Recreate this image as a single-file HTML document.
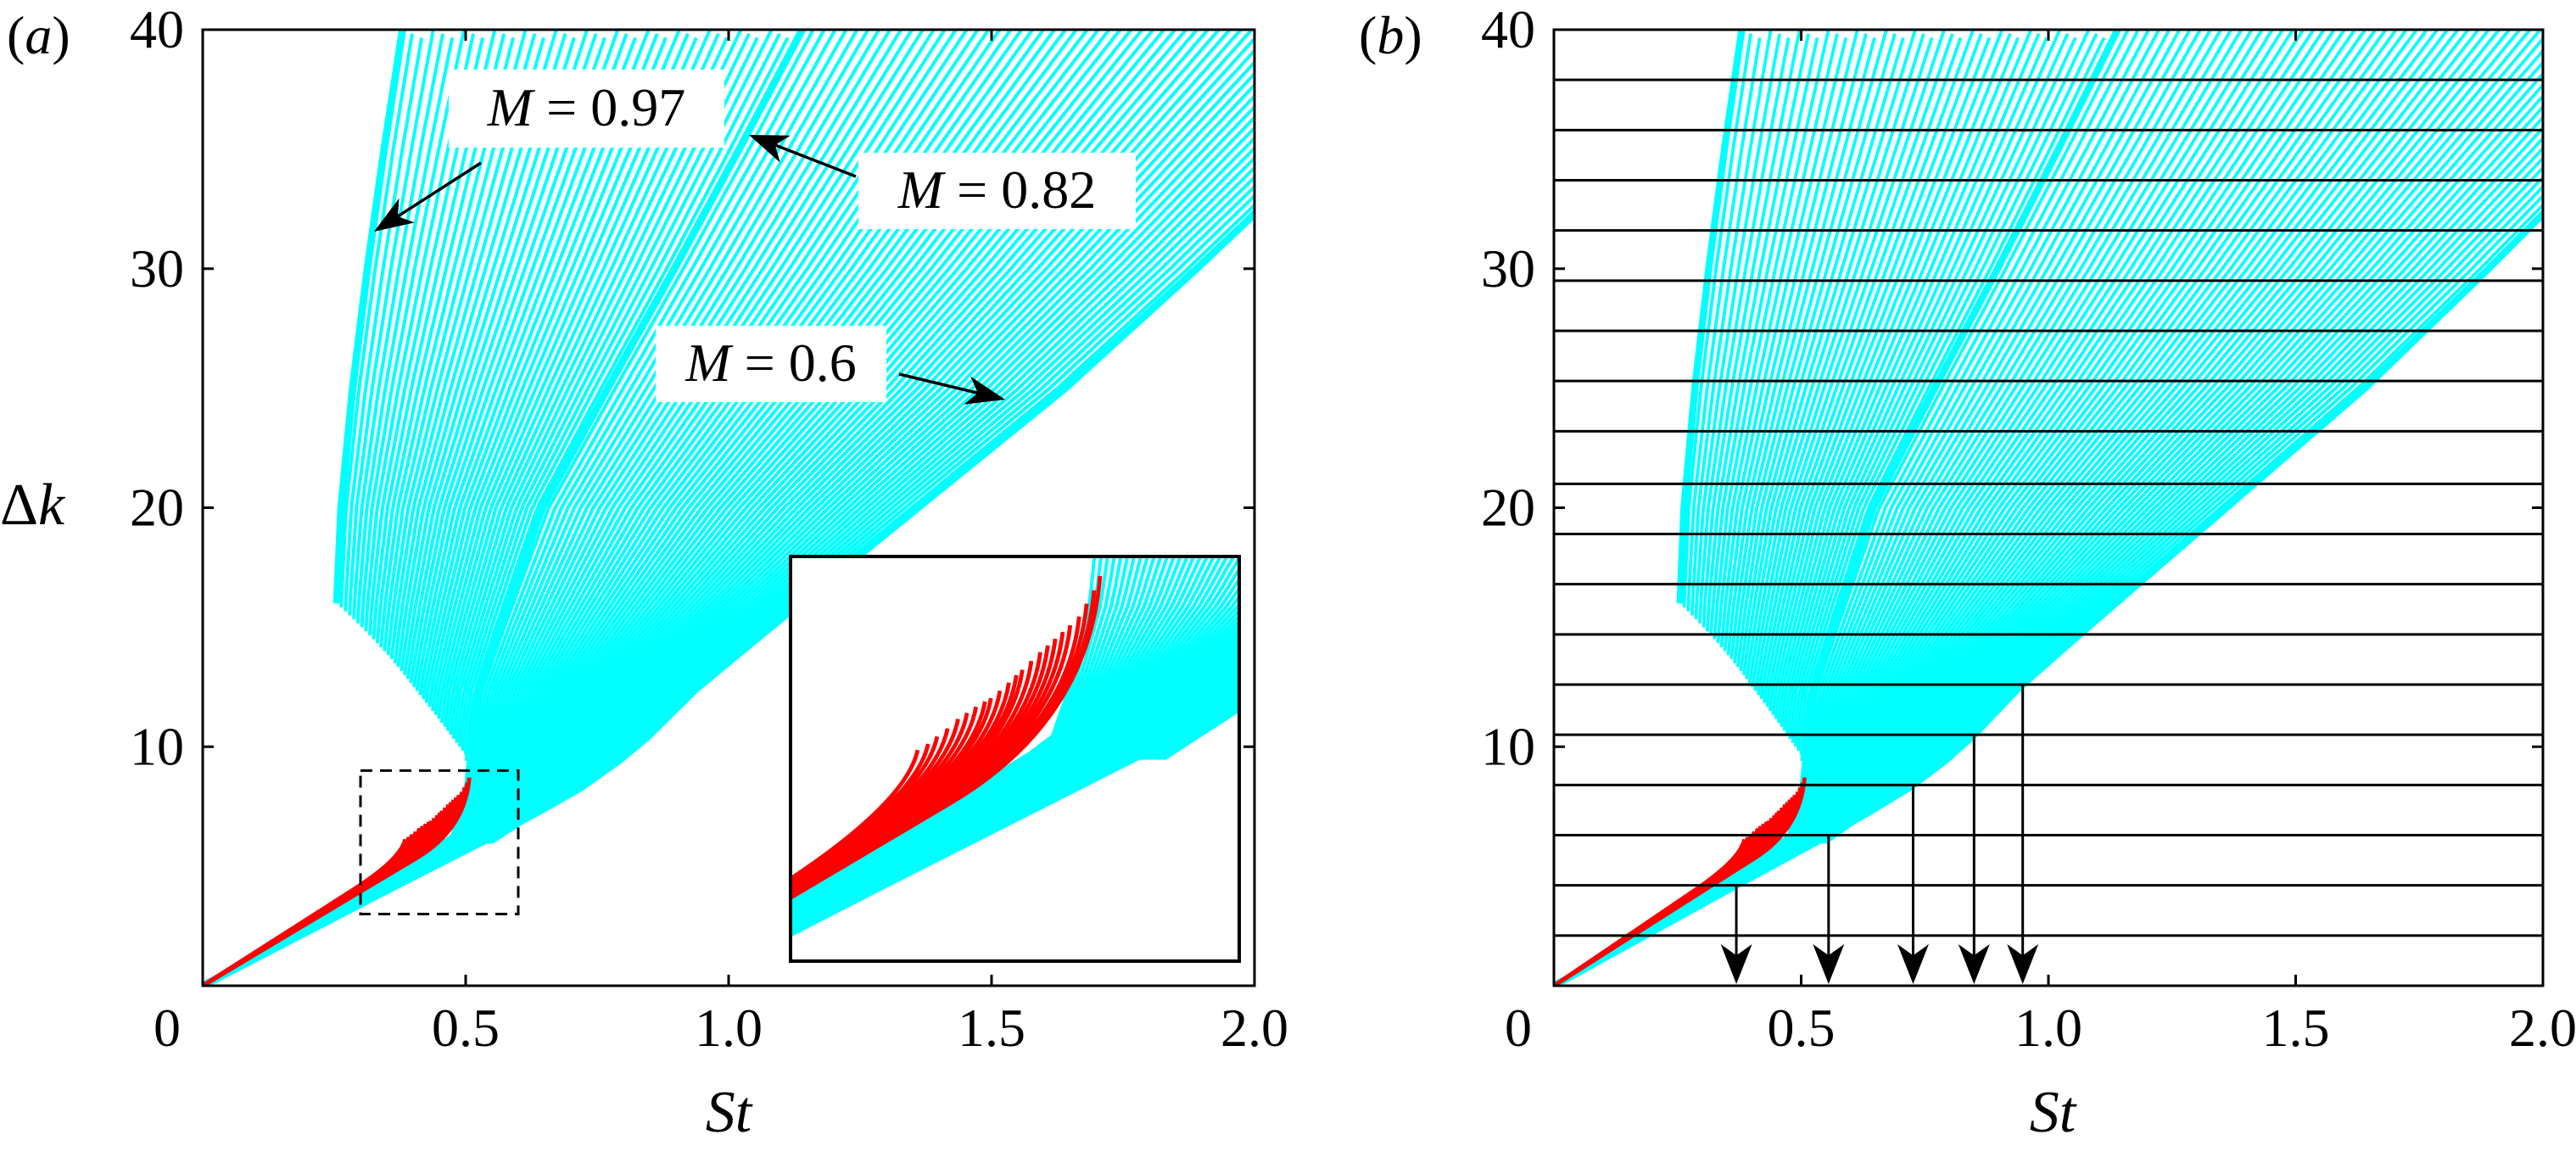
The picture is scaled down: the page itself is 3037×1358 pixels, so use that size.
<!DOCTYPE html>
<html><head><meta charset="utf-8">
<style>
html,body{margin:0;padding:0;background:#fff;}
svg{display:block;}
text{font-family:"Liberation Serif","Times New Roman",Times,"DejaVu Serif",serif;fill:#000;}
</style></head>
<body>
<svg id="fig" width="3037" height="1358" viewBox="0 0 3037 1358" xmlns="http://www.w3.org/2000/svg">
<defs>
<clipPath id="clipA"><rect x="239" y="35" width="1240" height="1127"/></clipPath>
<clipPath id="clipB"><rect x="1832" y="35" width="1166" height="1127"/></clipPath>
<clipPath id="clipI"><rect x="932" y="656" width="529" height="477"/></clipPath>
</defs>
<rect x="0" y="0" width="3037" height="1358" fill="#fff"/>
<g id="panelA"></g>
<g id="panelB"></g>
</svg>
<script>
// ---- data ----
const kLv    = [6.0, 7.3, 8.3, 9.4, 10.4, 12.4, 15, 20, 25, 30, 35, 40];
const stM082 = [0.47, 0.49, 0.50, 0.505, 0.51, 0.525, 0.565, 0.646, 0.77, 0.897, 1.02, 1.14];
const stM06  = [0.55, 0.64, 0.72, 0.79, 0.845, 0.937, 1.08, 1.36, 1.64, 1.89, 2.13, 2.37];
const kLv097 = [16, 20, 25, 30, 35, 40];
const stM097 = [0.255, 0.263, 0.285, 0.313, 0.345, 0.38];
const envK  = [0, 4.1, 6.2, 7.3, 8.3, 9.4, 10.4, 12.4, 15, 20, 25, 30, 35, 40];
const envSt = [0, 0.36, 0.547, 0.64, 0.72, 0.79, 0.845, 0.937, 1.08, 1.36, 1.64, 1.89, 2.13, 2.37];
const redEndSt = [0.385,0.392,0.398,0.405,0.412,0.418,0.424,0.430,0.434,0.440,0.446,0.451,0.455,0.461,0.467,0.472,0.477,0.482,0.487,0.493,0.498,0.503,0.507];
const redEndK  = [6.13,6.22,6.33,6.45,6.59,6.68,6.77,6.85,6.90,7.01,7.13,7.24,7.32,7.45,7.58,7.68,7.78,7.88,7.98,8.11,8.30,8.50,8.71];
const redSlope = [14.05,14.0,13.95,13.9,13.85,13.8,13.75,13.7,13.65,13.6,13.55,13.5,13.45,13.4,13.38,13.35,13.3,13.27,13.24,13.2,13.17,13.15,13.13];
const group1Count = 40;
const group2Count = 60;
const hLevels = [2.1,4.2,6.3,8.4,10.5,12.6,14.7,16.8,18.9,21.0,23.2,25.3,27.4,29.5,31.6,33.7,35.8,37.9,40.0];
const arrowK  = [4.2, 6.3, 8.4, 10.5, 12.6];
const xTicks = [0, 0.5, 1.0, 1.5, 2.0];
const xTickLabels = ["0","0.5","1.0","1.5","2.0"];
const yTicks = [10, 20, 30, 40];
const yTickLabels = ["10","20","30","40"];

const NS = "http://www.w3.org/2000/svg";
const FF = "'Liberation Serif', 'Times New Roman', Times, 'DejaVu Serif', serif";
function mk(tag, attrs, parent){const e=document.createElementNS(NS,tag);for(const k in attrs)e.setAttribute(k,attrs[k]);if(parent)parent.appendChild(e);return e;}
function interp(xs, ys, x){
  if(x<=xs[0]) return ys[0];
  for(let i=1;i<xs.length;i++){ if(x<=xs[i]){const t=(x-xs[i-1])/(xs[i]-xs[i-1]);return ys[i-1]+t*(ys[i]-ys[i-1]);} }
  const n=xs.length; const t=(x-xs[n-2])/(xs[n-1]-xs[n-2]); return ys[n-2]+t*(ys[n-1]-ys[n-2]);
}
const CY="#00ffff", RD="#ff0000";

function drawData(g, X, Y, clip, lw){
  const d = mk("g",{"clip-path":"url(#"+clip+")"},g);
  
  
  let bp="M"+X(0)+","+Y(0);
  for(let i=1;i<5;i++) bp+="L"+X(envSt[i])+","+Y(envK[i]);
  bp+="L"+X(0.6)+","+Y(7.8)+"L"+X(0.52)+","+Y(7.1)+"L"+X(0.46)+","+Y(6.1)+"L"+X(0.38)+","+Y(5.0)+"Z";
  const band=mk("path",{d:bp,fill:CY,stroke:CY,"stroke-width":2},d);
  
  
  for(let i=0;i<group2Count;i++){
    const t=i/(group2Count-1);
    let p="";
    for(let k=kLv[0];k<=40.01;k+=0.25){
      const a=interp(kLv,stM082,k), b=interp(kLv,stM06,k);
      const s=a+(b-a)*t;
      p+=(p?"L":"M")+X(s).toFixed(1)+","+Y(k).toFixed(1);
    }
    const e=mk("path",{d:p,fill:"none",stroke:CY,"stroke-width":lw,"stroke-linejoin":"round"},d);
    
    
  }
  for(let i=0;i<group1Count;i++){
    const t=i/(group1Count-1);
    const k0=16-6.5*t;
    let p="";
    for(let k=k0;k<=40.01;k+=0.5){
      const a=interp(kLv097,stM097,Math.max(k,16)), b=interp(kLv,stM082,k);
      const s=a+(b-a)*t;
      p+=(p?"L":"M")+X(s).toFixed(1)+","+Y(k).toFixed(1);
    }
    const e=mk("path",{d:p,fill:"none",stroke:CY,"stroke-width":lw,"stroke-linejoin":"round"},d);
    
    
  }
  function thick(ks, ss, name){
    let p="";
    for(let i=0;i<ks.length;i++) p+=(i?"L":"M")+X(ss[i]).toFixed(1)+","+Y(ks[i]).toFixed(1);
    const e=mk("path",{d:p,fill:"none",stroke:CY,"stroke-width":lw*2.2,"stroke-linejoin":"round"},d);
    
    
  }
  thick(kLv097,stM097,'curve-m097');
  thick(kLv.slice(3),stM082.slice(3),'curve-m082');
  thick(envK,envSt,'curve-m06');
  for(let j=0;j<redEndSt.length;j++){
    const e=redEndSt[j], ek=redEndK[j], sl=redSlope[j];
    const s0=e-0.1, c=e-0.008;
    const p="M"+X(0)+","+Y(0)+"L"+X(s0)+","+Y(sl*s0)+"Q"+X(c)+","+Y(sl*c)+" "+X(e)+","+Y(ek);
    const r=mk("path",{d:p,fill:"none",stroke:RD,"stroke-width":lw*1.2},d);
    
    
  }
}

function txt(g, attrs, parts, name){
  const t=mk("text",attrs,g);
  t.style.fontFamily=FF;
  parts.forEach(pp=>{
    const s=mk("tspan",{},t);
    s.style.fontFamily=FF;
    if(pp[1]) s.setAttribute("font-style","italic");
    s.textContent=pp[0];
  });
  
  
  return t;
}

function axes(g, X, Y, x0, x1, yTop, yBot, stCenter){
  const f=mk("rect",{x:x0,y:yTop,width:x1-x0,height:yBot-yTop,fill:"none",stroke:"#000","stroke-width":3},g);
  
  
  xTicks.forEach((v,i)=>{
    const x=X(v);
    if(i>0&&i<xTicks.length-1){
      mk("line",{x1:x,y1:yBot,x2:x,y2:yBot-13,stroke:"#000","stroke-width":3},g);
      mk("line",{x1:x,y1:yTop,x2:x,y2:yTop+13,stroke:"#000","stroke-width":3},g);
    }
    txt(g,{x:(v===0?x0-42:x),y:1233,"font-size":64,"text-anchor":"middle"},[[xTickLabels[i],false]],'x-tick-label');
  });
  yTicks.forEach((v,i)=>{
    const y=Y(v);
    if(v<40){
      mk("line",{x1:x0,y1:y,x2:x0+13,y2:y,stroke:"#000","stroke-width":3},g);
      mk("line",{x1:x1,y1:y,x2:x1-13,y2:y,stroke:"#000","stroke-width":3},g);
    }
    txt(g,{x:x0-22,y:y+21,"font-size":64,"text-anchor":"end"},[[yTickLabels[i],false]],'y-tick-label');
  });
  txt(g,{x:stCenter,y:1334,"font-size":70,"text-anchor":"middle"},[["St",true]],'x-axis-title');
}

function arrowHead(g, x, y, ang, L, W){
  const c=Math.cos(ang), s=Math.sin(ang);
  const pt=(a,b)=>[(x+a*c-b*s).toFixed(1),(y+a*s+b*c).toFixed(1)].join(",");
  return mk("polygon",{points:[pt(0,0),pt(-L,W/2),pt(-L*0.72,0),pt(-L,-W/2)].join(" "),fill:"#000"},g);
}

// ---------- Panel A ----------
const gA=document.getElementById("panelA");
const XA=s=>239+s*620, YA=k=>1162-k*28.175;
drawData(gA,XA,YA,"clipA",4);
const db=mk("rect",{x:XA(0.3),y:YA(9),width:XA(0.6)-XA(0.3),height:YA(3)-YA(9),fill:"none",stroke:"#000","stroke-width":3,"stroke-dasharray":"14,9"},gA);


const gI=mk("g",{},gA);


mk("rect",{x:932,y:656,width:529,height:477,fill:"#fff"},gI);
const XI=s=>932+(s-0.3)/0.3*529, YI=k=>1133-(k-3)/6*477;
drawData(gI,XI,YI,"clipI",4);
const ib=mk("rect",{x:932,y:656,width:529,height:477,fill:"none",stroke:"#000","stroke-width":4},gI);


axes(gA,XA,YA,239,1479,35,1162,859);
txt(gA,{x:8,y:63,"font-size":64},[["(",false],["a",true],[")",false]],'panel-label-a');
txt(gA,{x:0,y:618,"font-size":70},[["Δ",false],["k",true]],'y-axis-title');
function annot(bx,by,bw,bh,label,ax0,ay0,ax1,ay1,name){
  const ga=mk("g",{},gA);
  
  
  mk("rect",{x:bx,y:by,width:bw,height:bh,fill:"#fff"},ga);
  txt(ga,{x:bx+bw/2,y:by+bh*0.72,"font-size":64,"text-anchor":"middle"},[["M",true],[" = "+label,false]],'annotation-label');
  const ang=Math.atan2(ay1-ay0,ax1-ax0);
  mk("line",{x1:ax0,y1:ay0,x2:ax1-30*Math.cos(ang),y2:ay1-30*Math.sin(ang),stroke:"#000","stroke-width":3.5},ga);
  arrowHead(ga,ax1,ay1,ang,46,34);
}
annot(529,82,325,92,"0.97",567,192,441,273,'annotation-m097');
annot(1012,180,327,90,"0.82",1009,208,883,159,'annotation-m082');
annot(773,384,272,90,"0.6",1060,441,1185,471,'annotation-m06');

// ---------- Panel B ----------
const gB=document.getElementById("panelB");
const XB=s=>1832+s*583, YB=k=>1162-k*28.175;
drawData(gB,XB,YB,"clipB",3.8);
hLevels.forEach(k=>{
  const l=mk("line",{x1:1832,y1:YB(k),x2:2998,y2:YB(k),stroke:"#000","stroke-width":3},gB);
  
  
});
arrowK.forEach(k=>{
  const x=XB(interp(envK,envSt,k));
  const ga=mk("g",{},gB);
  
  
  mk("line",{x1:x,y1:YB(k),x2:x,y2:1130,stroke:"#000","stroke-width":3},ga);
  arrowHead(ga,x,1160,Math.PI/2,47,37);
});
axes(gB,XB,YB,1832,2998,35,1162,2420);
txt(gB,{x:1602,y:63,"font-size":64},[["(",false],["b",true],[")",false]],'panel-label-b');
</script>
</body></html>
